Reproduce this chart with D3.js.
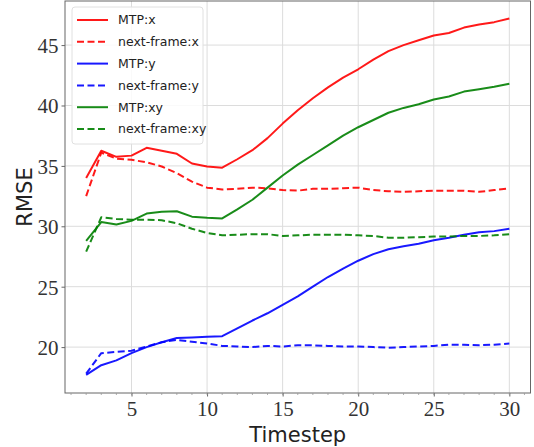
<!DOCTYPE html>
<html>
<head>
<meta charset="utf-8">
<script src="https://cdn.jsdelivr.net/npm/d3@7"></script>
<style>
html,body{margin:0;padding:0;background:#fff;}
svg{display:block;}
</style>
</head>
<body>
<svg id="chart" width="534" height="447"></svg>
<script>
const timesteps = d3.range(2, 31);
const mtpX = [34.0,36.25,35.75,35.85,36.5,36.25,36.0,35.2,34.95,34.85,35.55,36.3,37.3,38.5,39.6,40.6,41.5,42.3,43.0,43.8,44.5,45.0,45.4,45.8,46.0,46.45,46.7,46.9,47.2];
const nextX = [32.5,36.1,35.6,35.5,35.3,34.95,34.4,33.7,33.2,33.05,33.1,33.2,33.15,33.0,32.95,33.1,33.1,33.15,33.2,33.0,32.9,32.85,32.9,32.95,32.95,32.95,32.85,33.0,33.15];
const mtpY = [17.7,18.5,18.9,19.5,20.0,20.4,20.75,20.8,20.85,20.9,21.55,22.2,22.8,23.5,24.2,25.0,25.8,26.5,27.15,27.7,28.1,28.35,28.55,28.85,29.05,29.3,29.5,29.6,29.8];
const nextY = [17.8,19.5,19.6,19.7,20.05,20.4,20.6,20.45,20.3,20.1,20.05,20.0,20.1,20.05,20.15,20.15,20.1,20.05,20.05,20.0,19.95,20.0,20.05,20.1,20.2,20.2,20.15,20.2,20.3];
const mtpXY = [28.8,30.35,30.15,30.45,31.05,31.2,31.25,30.8,30.7,30.65,31.4,32.2,33.2,34.2,35.1,35.9,36.7,37.5,38.2,38.8,39.4,39.8,40.1,40.5,40.75,41.15,41.35,41.55,41.8];
const nextXY = [27.9,30.75,30.6,30.55,30.55,30.5,30.25,29.8,29.45,29.25,29.3,29.35,29.35,29.2,29.25,29.3,29.3,29.3,29.25,29.2,29.05,29.05,29.1,29.15,29.15,29.2,29.2,29.25,29.35];
const seriesNames = ["MTP:x","next-frame:x","MTP:y","next-frame:y","MTP:xy","next-frame:xy"];
const xTicks = [5,10,15,20,25,30];
const yTicks = [20,25,30,35,40,45];

const seriesData = [mtpX,nextX,mtpY,nextY,mtpXY,nextXY];
const colors = ["#ff0000","#ff0000","#0000ff","#0000ff","#008000","#008000"];
const dashed = [false,true,false,true,false,true];

const W = 534, H = 447;
const m = {left:65, top:1, right:3.5, bottom:54};
const svg = d3.select("#chart");
const x = d3.scaleLinear().domain([0.6, 31.4]).range([m.left, W - m.right]);
const y = d3.scaleLinear().domain([16.2, 48.65]).range([H - m.bottom, m.top]);

// grid
const g = svg.append("g");
g.selectAll(".vg").data(xTicks).join("line")
  .attr("x1", d => x(d)).attr("x2", d => x(d))
  .attr("y1", y.range()[0]).attr("y2", y.range()[1])
  .attr("stroke", "#dcdcdc").attr("stroke-width", 1);
g.selectAll(".hg").data(yTicks).join("line")
  .attr("y1", d => y(d)).attr("y2", d => y(d))
  .attr("x1", x.range()[0]).attr("x2", x.range()[1])
  .attr("stroke", "#dcdcdc").attr("stroke-width", 1);

// lines
const line = d3.line().x((d,i) => x(timesteps[i])).y(d => y(d));
seriesData.forEach((s, k) => {
  svg.append("path").datum(s)
    .attr("d", line)
    .attr("fill", "none")
    .attr("stroke", colors[k])
    .attr("stroke-width", 2)
    .attr("stroke-linejoin", "round")
    .attr("stroke-dasharray", dashed[k] ? "7,3.5" : null)
    .attr("opacity", 0.9);
});

// frame
svg.append("rect")
  .attr("x", m.left).attr("y", m.top)
  .attr("width", W - m.right - m.left).attr("height", H - m.bottom - m.top)
  .attr("fill", "none").attr("stroke", "#666").attr("stroke-width", 1);

// axes
const xAxis = d3.axisBottom(x).tickValues(xTicks).tickSize(3.5).tickPadding(5);
const yAxis = d3.axisLeft(y).tickValues(yTicks).tickSize(3.5).tickPadding(3);
const xa = svg.append("g").attr("transform", `translate(0,${H - m.bottom})`).call(xAxis);
const ya = svg.append("g").attr("transform", `translate(${m.left},0)`).call(yAxis);
[xa, ya].forEach(a => {
  a.select(".domain").remove();
  a.selectAll(".tick line").attr("stroke", "#666");
  a.selectAll(".tick text").attr("font-family", "'Liberation Serif', 'DejaVu Serif', serif")
    .attr("font-size", 21).attr("fill", "#333");
});
ya.selectAll(".tick text").attr("dy", "0.35em");

// minor ticks (x only)
svg.append("g").selectAll("line").data(d3.range(1, 32)).join("line")
  .attr("x1", d => x(d)).attr("x2", d => x(d))
  .attr("y1", H - m.bottom).attr("y2", H - m.bottom + 2)
  .attr("stroke", "#999").attr("stroke-width", 0.8);

// axis labels
svg.append("text")
  .attr("x", (m.left + W - m.right) / 2).attr("y", 442)
  .attr("text-anchor", "middle")
  .attr("font-family", "'DejaVu Sans', sans-serif").attr("font-size", 21)
  .attr("fill", "#222").text("Timestep");
svg.append("text")
  .attr("transform", `translate(32,${(m.top + H - m.bottom) / 2}) rotate(-90)`)
  .attr("text-anchor", "middle")
  .attr("font-family", "'DejaVu Sans', sans-serif").attr("font-size", 21)
  .attr("fill", "#222").text("RMSE");

// legend
const lg = svg.append("g");
lg.append("rect").attr("x", 72).attr("y", 7).attr("width", 131).attr("height", 137)
  .attr("rx", 3).attr("fill", "#fff").attr("fill-opacity", 0.85)
  .attr("stroke", "#e0e0e0").attr("stroke-width", 1);
seriesNames.forEach((name, k) => {
  const yy = 20 + k * 21.8;
  lg.append("line").attr("x1", 77).attr("x2", 108).attr("y1", yy).attr("y2", yy)
    .attr("stroke", colors[k]).attr("stroke-width", 2)
    .attr("stroke-dasharray", dashed[k] ? "7,3.5" : null).attr("opacity", 0.9);
  lg.append("text").attr("x", 118).attr("y", yy).attr("dy", "0.35em")
    .attr("font-family", "'DejaVu Sans', sans-serif").attr("font-size", 12.5)
    .attr("fill", "#222").text(name);
});
</script>
</body>
</html>
